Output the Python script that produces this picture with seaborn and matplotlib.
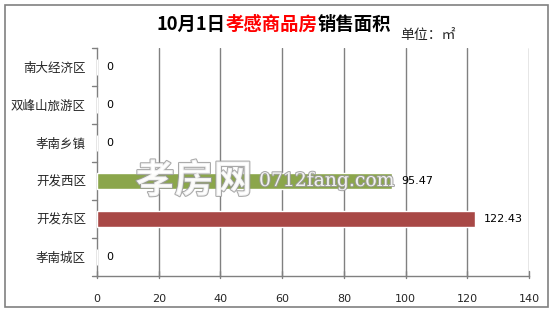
import matplotlib
matplotlib.use("Agg")
import matplotlib.pyplot as plt
import matplotlib.patheffects as pe
import seaborn as sns
import pandas as pd

categories = ["南大经济区", "双峰山旅游区", "孝南乡镇", "开发西区", "开发东区", "孝南城区"]
values = [0, 0, 0, 95.47, 122.43, 0]
value_labels = ["0", "0", "0", "95.47", "122.43", "0"]
bar_colors = ["#8BA64B", "#8BA64B", "#8BA64B", "#8BA64B", "#A84846", "#A84846"]
x_ticks = [0, 20, 40, 60, 80, 100, 120, 140]
title_parts = [("10月1日", "black"), ("孝感商品房", "#FF0000"), ("销售面积", "black")]
unit_text = "单位：㎡"
watermark_cn = "孝房网"
watermark_en = "0712fang.com"

sns.set_theme(style="white")
plt.rcParams["font.family"] = ["Noto Sans CJK SC", "DejaVu Sans"]

df = pd.DataFrame({"cat": categories, "val": values})

fig = plt.figure(figsize=(5.55, 3.12), dpi=100)
fig.patch.set_facecolor("white")
ax = fig.add_axes([0.1748, 0.1154, 0.9532 - 0.1748, 0.8462 - 0.1154])

sns.barplot(data=df, x="val", y="cat", hue="cat", palette=dict(zip(categories, bar_colors)),
            orient="h", width=0.42, legend=False, ax=ax, saturation=1, zorder=3)

ax.set_xlim(0, 140)
ax.set_xticks(x_ticks)
ax.set_xticklabels([str(t) for t in x_ticks], fontsize=8, family="DejaVu Sans")
ax.set_xlabel("")
ax.set_ylabel("")
ax.set_ylim(len(categories) - 0.5, -0.5)
ax.tick_params(axis="y", labelsize=9, length=0, pad=8)
ax.tick_params(axis="x", length=0, pad=13)

# gridlines
for t in x_ticks[1:]:
    ax.axvline(t, color="#808080", lw=1, zorder=1)

for s in ["top", "right"]:
    ax.spines[s].set_visible(False)
for s in ["left", "bottom"]:
    ax.spines[s].set_color("#808080")
    ax.spines[s].set_linewidth(1)

# category tick marks on left axis
for b in range(len(categories) + 1):
    y = b - 0.5
    ax.plot([-0.012, 0], [y, y], transform=ax.get_yaxis_transform(), color="#808080",
            lw=1, clip_on=False, zorder=4)
for t in x_ticks:
    ax.plot([t, t], [-0.01, 0.022], transform=ax.get_xaxis_transform(), color="#808080",
            lw=1, clip_on=False, zorder=4)

# value labels
for i, (v, lab) in enumerate(zip(values, value_labels)):
    ax.text(v + 3.0, i, lab, va="center", ha="left", fontsize=8,
            family="DejaVu Sans", color="black", zorder=6)

# watermark
ax.text(12.5, 3.0, watermark_cn, fontsize=28, fontweight="bold", color="white",
        va="center", ha="left", alpha=0.85, zorder=5,
        path_effects=[pe.withStroke(linewidth=1.5, foreground="#9a9a9a")])
ax.text(52.5, 3.0, watermark_en, fontsize=13.5, family="DejaVu Serif", color="white",
        va="center", ha="left", alpha=0.85, zorder=5,
        path_effects=[pe.withStroke(linewidth=1.5, foreground="#9a9a9a")])

# title with coloured part
x0 = 157 / 555
y0 = 1 - 24 / 312
renderer = fig.canvas.get_renderer()
cur = x0
for txt, col in title_parts:
    t = fig.text(cur, y0, txt, fontsize=13.2, fontweight="bold", color=col,
                 va="center", ha="left")
    bb = t.get_window_extent(renderer=renderer)
    cur += bb.width / fig.bbox.width

fig.text(428 / 555, 1 - 35 / 312, unit_text, fontsize=10, va="center", ha="center")

# outer border
fig.patches.append(plt.Rectangle((5 / 555, 5 / 312), 543 / 555, 302 / 312,
                                 transform=fig.transFigure, fill=False,
                                 edgecolor="#808080", lw=1.2))

fig.savefig("out.png", dpi=100)
